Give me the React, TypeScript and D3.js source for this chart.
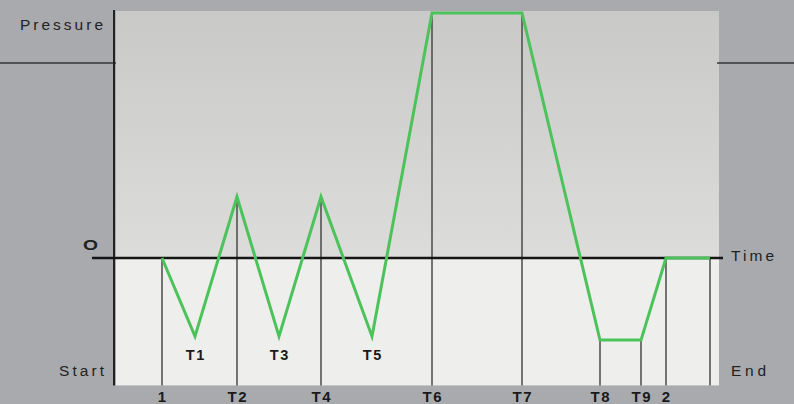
import React from "react";
import * as d3 from "d3";

const times = [0, 33, 75, 117, 159, 210, 270, 360, 438, 479, 504, 548];
const pressure = [0, -0.32, 0.25, -0.32, 0.25, -0.32, 1, 1, -0.335, -0.335, 0, 0];
const topLabels = [
  { t: 33, label: "T1" },
  { t: 117, label: "T3" },
  { t: 210, label: "T5" },
];
const markers = [
  { t: 0, label: "1", from: 0 },
  { t: 75, label: "T2", from: 0.25 },
  { t: 159, label: "T4", from: 0.25 },
  { t: 270, label: "T6", from: 1 },
  { t: 360, label: "T7", from: 1 },
  { t: 438, label: "T8", from: -0.335 },
  { t: 479, label: "T9", from: -0.335 },
  { t: 504, label: "2", from: 0 },
  { t: 548, label: "", from: 0 },
];

const W = 794;
const H = 404;

export default function App() {
  const x = d3.scaleLinear().domain([0, 548]).range([162, 710]);
  const y = d3.scaleLinear().domain([-0.52, 1]).range([385.4, 13]);
  const line = d3
    .line<number>()
    .x((_, i) => x(times[i]))
    .y((d) => y(d));
  const panelL = 116;
  const panelR = 719;
  const top = 11;
  const y0 = y(0);
  const bottom = y(-0.52);
  const font = "'Liberation Sans', Arial, sans-serif";
  const ls = 1.5;
  return (
    <svg
      width={W}
      height={H}
      style={{ position: "absolute", left: 0, top: 0, display: "block" }}
    >
      <defs>
        <linearGradient id="upper" x1="0" y1="0" x2="0" y2="1">
          <stop offset="0" stopColor="#c9c9c7" />
          <stop offset="1" stopColor="#dcdcda" />
        </linearGradient>
      </defs>
      <rect x={0} y={0} width={W} height={H} fill="#a8aaae" />
      <rect x={panelL} y={top} width={panelR - panelL} height={y0 - top} fill="url(#upper)" />
      <rect x={panelL} y={y0} width={panelR - panelL} height={bottom - y0} fill="#eeeeec" />
      {/* outside pressure line */}
      <line x1={0} x2={panelL} y1={63} y2={63} stroke="#333" strokeWidth={1.5} />
      <line x1={panelR - 2} x2={W} y1={63} y2={63} stroke="#333" strokeWidth={1.5} />
      {/* left axis */}
      <line x1={114} x2={114} y1={10} y2={bottom} stroke="#222" strokeWidth={2} />
      {/* verticals */}
      {markers.map((m) => (
        <line
          key={"v" + m.t}
          x1={x(m.t)}
          x2={x(m.t)}
          y1={y(m.from)}
          y2={bottom}
          stroke="#4a4a4a"
          strokeWidth={1.5}
        />
      ))}
      {/* zero line */}
      <line x1={92} x2={723} y1={y0} y2={y0} stroke="#151515" strokeWidth={2.6} />
      <path d={line(pressure) || ""} fill="none" stroke="#4cc35a" strokeWidth={3} strokeLinejoin="miter" />
      {topLabels.map((l) => (
        <text
          key={l.label}
          x={x(l.t) + ls / 2}
          y={360}
          textAnchor="middle"
          fontFamily={font}
          fontWeight="bold"
          fontSize={14.5}
          letterSpacing={ls}
          fill="#1a1a1a"
        >
          {l.label}
        </text>
      ))}
      {markers
        .filter((m) => m.label)
        .map((m) => (
          <text
            key={"b" + m.label}
            x={x(m.t) + ls / 2}
            y={402}
            textAnchor="middle"
            fontFamily={font}
            fontWeight="bold"
            fontSize={15}
            letterSpacing={ls}
            fill="#1a1a1a"
          >
            {m.label}
          </text>
        ))}
      <text x={20} y={30} fontFamily={font} fontSize={15.5} textLength={83} lengthAdjust="spacing" fill="#222">
        Pressure
      </text>
      <text x={59} y={376} fontFamily={font} fontSize={15.5} textLength={45} lengthAdjust="spacing" fill="#222">
        Start
      </text>
      <text x={731} y={261} fontFamily={font} fontSize={15.5} textLength={43} lengthAdjust="spacing" fill="#222">
        Time
      </text>
      <text x={731} y={376} fontFamily={font} fontSize={15.5} textLength={35} lengthAdjust="spacing" fill="#222">
        End
      </text>
      <text x={83} y={249.5} fontFamily={font} fontWeight="bold" fontSize={14} textLength={15} lengthAdjust="spacingAndGlyphs" fill="#222">
        O
      </text>
    </svg>
  );
}
